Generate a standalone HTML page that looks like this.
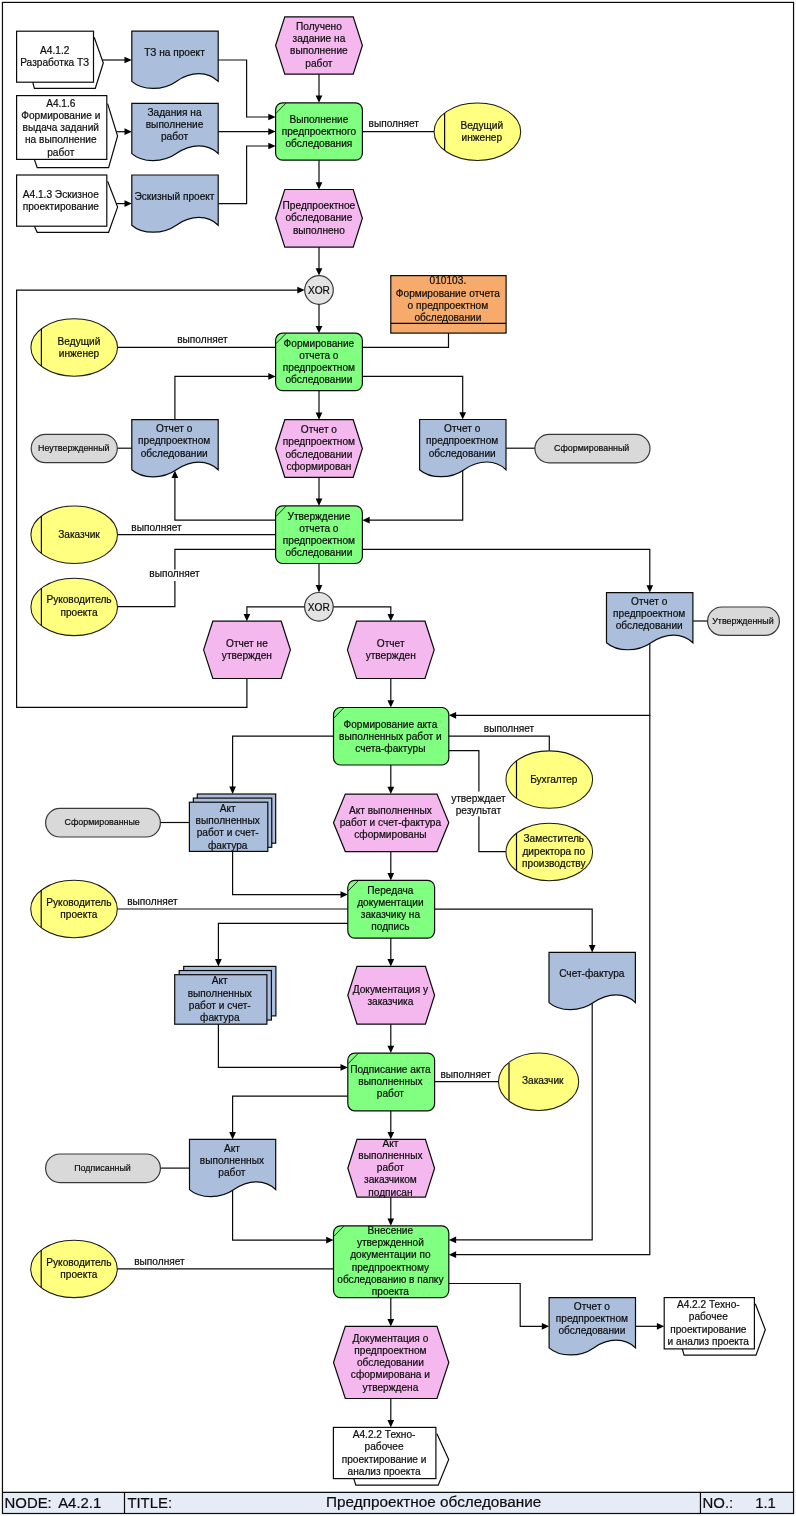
<!DOCTYPE html>
<html lang="ru">
<head>
<meta charset="utf-8">
<title>Предпроектное обследование</title>
<style>
html,body{margin:0;padding:0;background:#fff;}
body{width:796px;height:1516px;overflow:hidden;}
svg{display:block;will-change:transform;}
text{font-family:"Liberation Sans",sans-serif;fill:#0c0c0c;stroke:#0c0c0c;stroke-width:0.2;}
.s{stroke:#0a0a0a;stroke-width:1.2;stroke-linejoin:miter;}
.sp{stroke:#3a3a3a;stroke-width:1.2;}
.se{stroke:#1c1c10;stroke-width:1.05;}
.l{stroke:#0a0a0a;stroke-width:1.2;fill:none;stroke-linejoin:miter;}
.a{fill:#000;stroke:none;}
</style>
</head>
<body>
<svg width="796" height="1516" viewBox="0 0 796 1516">
<polyline class="l" fill="#fff" points="94.2,37.2 103.3,63 95.3,88.3 34.4,88.3 32.7,82.2"/>
<rect class="s" fill="#fff" x="16.6" y="31.2" width="76.9" height="51"/>
<text class="t" x="54.7" y="53.7" font-size="10.15" text-anchor="middle">A4.1.2</text>
<text class="t" x="54.7" y="65.93" font-size="10.15" text-anchor="middle">Разработка ТЗ</text>
<polyline class="l" fill="#fff" points="107.6,103.6 117.6,136 108.6,167.6 37.2,167.6 34.4,159.4"/>
<rect class="s" fill="#fff" x="16.6" y="95.6" width="90.2" height="63.8"/>
<text class="t" x="60.8" y="106.6" font-size="10.15" text-anchor="middle">A4.1.6</text>
<text class="t" x="60.8" y="118.83" font-size="10.15" text-anchor="middle">Формирование и</text>
<text class="t" x="60.8" y="131.06" font-size="10.15" text-anchor="middle">выдача заданий</text>
<text class="t" x="60.8" y="143.29" font-size="10.15" text-anchor="middle">на выполнение</text>
<text class="t" x="60.8" y="155.52" font-size="10.15" text-anchor="middle">работ</text>
<polyline class="l" fill="#fff" points="107.6,181.3 117.6,207.1 108.6,232.3 37.2,232.3 34.4,226.2"/>
<rect class="s" fill="#fff" x="16.6" y="175" width="90.2" height="51.2"/>
<text class="t" x="60.8" y="197.5" font-size="10.15" text-anchor="middle">A4.1.3 Эскизное</text>
<text class="t" x="60.8" y="209.73" font-size="10.15" text-anchor="middle">проектирование</text>
<path class="s" fill="#ABBFDC" d="M131.8 31.2 H218.2 V81.4 C207.83 71.1 190.98 71.1 176.3 81.4 C163.34 90.7 142.17 90.7 131.8 81.4 Z"/>
<text class="t" x="174.5" y="56" font-size="10.15" text-anchor="middle">ТЗ на проект</text>
<path class="s" fill="#ABBFDC" d="M131.8 103.4 H218.2 V153.6 C207.83 143.3 190.98 143.3 176.3 153.6 C163.34 162.9 142.17 162.9 131.8 153.6 Z"/>
<text class="t" x="174.5" y="115.7" font-size="10.15" text-anchor="middle">Задания на</text>
<text class="t" x="174.5" y="127.93" font-size="10.15" text-anchor="middle">выполнение</text>
<text class="t" x="174.5" y="140.16" font-size="10.15" text-anchor="middle">работ</text>
<path class="s" fill="#ABBFDC" d="M131.8 175 H218.2 V225.2 C207.83 214.9 190.98 214.9 176.3 225.2 C163.34 234.5 142.17 234.5 131.8 225.2 Z"/>
<text class="t" x="174.5" y="199.7" font-size="10.15" text-anchor="middle">Эскизный проект</text>
<polygon class="s" fill="#F4B8EE" points="275.6,45.5 284.8,16.8 353.2,16.8 362.4,45.5 353.2,74.2 284.8,74.2"/>
<text class="t" x="318.9" y="29.9" font-size="10.15" text-anchor="middle">Получено</text>
<text class="t" x="318.9" y="42.13" font-size="10.15" text-anchor="middle">задание на</text>
<text class="t" x="318.9" y="54.36" font-size="10.15" text-anchor="middle">выполнение</text>
<text class="t" x="318.9" y="66.59" font-size="10.15" text-anchor="middle">работ</text>
<rect class="s" fill="#80FF80" x="275.6" y="102.8" width="86.8" height="57.4" rx="7.0" ry="7.0"/>
<path class="l" style="stroke-width:0.85" d="M275.9 113.4 L286 103.1"/>
<text class="t" x="318.9" y="122.9" font-size="10.15" text-anchor="middle">Выполнение</text>
<text class="t" x="318.9" y="135.13" font-size="10.15" text-anchor="middle">предпроектного</text>
<text class="t" x="318.9" y="147.36" font-size="10.15" text-anchor="middle">обследования</text>
<ellipse class="se" fill="#FFFF80" cx="477.4" cy="131.7" rx="43.3" ry="28.7"/>
<path class="l" d="M444.6 113 V150.2"/>
<text class="t" x="481.8" y="128.7" font-size="10.15" text-anchor="middle">Ведущий</text>
<text class="t" x="481.8" y="140.93" font-size="10.15" text-anchor="middle">инженер</text>
<polygon class="s" fill="#F4B8EE" points="275.6,218.3 284.8,189.5 353.2,189.5 362.4,218.3 353.2,247.1 284.8,247.1"/>
<text class="t" x="318.9" y="209.1" font-size="10.15" text-anchor="middle">Предпроектное</text>
<text class="t" x="318.9" y="221.33" font-size="10.15" text-anchor="middle">обследование</text>
<text class="t" x="318.9" y="233.56" font-size="10.15" text-anchor="middle">выполнено</text>
<circle class="sp" fill="#E3E3E3" cx="319" cy="290" r="14.3"/>
<text class="t" x="318.9" y="293.8" font-size="10.15" text-anchor="middle">XOR</text>
<rect class="s" fill="#F6AB6C" x="390.8" y="275.6" width="115.3" height="57.5"/>
<path class="l" d="M390.8 323.3 H506.1"/>
<text class="t" x="447.9" y="284.3" font-size="10.15" text-anchor="middle">010103.</text>
<text class="t" x="447.9" y="296.53" font-size="10.15" text-anchor="middle">Формирование отчета</text>
<text class="t" x="447.9" y="308.76" font-size="10.15" text-anchor="middle">о предпроектном</text>
<text class="t" x="447.9" y="320.99" font-size="10.15" text-anchor="middle">обследовании</text>
<ellipse class="se" fill="#FFFF80" cx="74.2" cy="347.5" rx="43.3" ry="28.7"/>
<path class="l" d="M41.4 328.8 V366"/>
<text class="t" x="79" y="344.6" font-size="10.15" text-anchor="middle">Ведущий</text>
<text class="t" x="79" y="356.83" font-size="10.15" text-anchor="middle">инженер</text>
<rect class="s" fill="#80FF80" x="275.6" y="333.2" width="86.8" height="57.4" rx="7.0" ry="7.0"/>
<path class="l" style="stroke-width:0.85" d="M275.9 343.8 L286 333.5"/>
<text class="t" x="318.9" y="346.8" font-size="10.15" text-anchor="middle">Формирование</text>
<text class="t" x="318.9" y="359.03" font-size="10.15" text-anchor="middle">отчета о</text>
<text class="t" x="318.9" y="371.26" font-size="10.15" text-anchor="middle">предпроектном</text>
<text class="t" x="318.9" y="383.49" font-size="10.15" text-anchor="middle">обследовании</text>
<path class="s" fill="#ABBFDC" d="M131.8 419.6 H218.2 V469.8 C207.83 459.5 190.98 459.5 176.3 469.8 C163.34 479.1 142.17 479.1 131.8 469.8 Z"/>
<text class="t" x="174.2" y="432.2" font-size="10.15" text-anchor="middle">Отчет о</text>
<text class="t" x="174.2" y="444.43" font-size="10.15" text-anchor="middle">предпроектном</text>
<text class="t" x="174.2" y="456.66" font-size="10.15" text-anchor="middle">обследовании</text>
<polygon class="s" fill="#F4B8EE" points="275.6,448.5 284.8,419.7 353.2,419.7 362.4,448.5 353.2,477.3 284.8,477.3"/>
<text class="t" x="318.9" y="433.2" font-size="10.15" text-anchor="middle">Отчет о</text>
<text class="t" x="318.9" y="445.43" font-size="10.15" text-anchor="middle">предпроектном</text>
<text class="t" x="318.9" y="457.66" font-size="10.15" text-anchor="middle">обследовании</text>
<text class="t" x="318.9" y="469.89" font-size="10.15" text-anchor="middle">сформирован</text>
<path class="s" fill="#ABBFDC" d="M419.6 419.5 H506 V469.7 C495.63 459.4 478.78 459.4 464.1 469.7 C451.14 479 429.97 479 419.6 469.7 Z"/>
<text class="t" x="462.2" y="432.2" font-size="10.15" text-anchor="middle">Отчет о</text>
<text class="t" x="462.2" y="444.43" font-size="10.15" text-anchor="middle">предпроектном</text>
<text class="t" x="462.2" y="456.66" font-size="10.15" text-anchor="middle">обследовании</text>
<rect class="sp" fill="#D9D9D9" x="31.2" y="434.3" width="86.1" height="28.3" rx="14.15" ry="14.15"/>
<text class="t" x="73.8" y="451.3" font-size="8.9" text-anchor="middle">Неутвержденный</text>
<rect class="sp" fill="#D9D9D9" x="534.9" y="434.4" width="115.1" height="28.4" rx="14.2" ry="14.2"/>
<text class="t" x="591.7" y="451.1" font-size="8.9" text-anchor="middle">Сформированный</text>
<ellipse class="se" fill="#FFFF80" cx="74.2" cy="534.8" rx="43.3" ry="28.7"/>
<path class="l" d="M41.4 516.1 V553.3"/>
<text class="t" x="79" y="537.9" font-size="10.15" text-anchor="middle">Заказчик</text>
<ellipse class="se" fill="#FFFF80" cx="74.2" cy="606.9" rx="43.3" ry="28.7"/>
<path class="l" d="M41.4 588.2 V625.4"/>
<text class="t" x="79" y="603.3" font-size="10.15" text-anchor="middle">Руководитель</text>
<text class="t" x="79" y="615.53" font-size="10.15" text-anchor="middle">проекта</text>
<rect class="s" fill="#80FF80" x="275.6" y="505.9" width="86.8" height="57.6" rx="7.0" ry="7.0"/>
<path class="l" style="stroke-width:0.85" d="M275.9 516.5 L286 506.2"/>
<text class="t" x="318.9" y="519.6" font-size="10.15" text-anchor="middle">Утверждение</text>
<text class="t" x="318.9" y="531.83" font-size="10.15" text-anchor="middle">отчета о</text>
<text class="t" x="318.9" y="544.06" font-size="10.15" text-anchor="middle">предпроектном</text>
<text class="t" x="318.9" y="556.29" font-size="10.15" text-anchor="middle">обследовании</text>
<circle class="sp" fill="#E3E3E3" cx="318.9" cy="606.8" r="14.3"/>
<text class="t" x="318.8" y="610.6" font-size="10.15" text-anchor="middle">XOR</text>
<polygon class="s" fill="#F4B8EE" points="203.6,649.85 212.8,621.2 281.2,621.2 290.4,649.85 281.2,678.5 212.8,678.5"/>
<text class="t" x="246.9" y="647" font-size="10.15" text-anchor="middle">Отчет не</text>
<text class="t" x="246.9" y="659.23" font-size="10.15" text-anchor="middle">утвержден</text>
<polygon class="s" fill="#F4B8EE" points="347.4,649.85 356.6,621.2 425,621.2 434.2,649.85 425,678.5 356.6,678.5"/>
<text class="t" x="390.7" y="647" font-size="10.15" text-anchor="middle">Отчет</text>
<text class="t" x="390.7" y="659.23" font-size="10.15" text-anchor="middle">утвержден</text>
<path class="s" fill="#ABBFDC" d="M606.5 592.6 H692.9 V642.8 C682.53 632.5 665.68 632.5 651 642.8 C638.04 652.1 616.87 652.1 606.5 642.8 Z"/>
<text class="t" x="649.2" y="604.9" font-size="10.15" text-anchor="middle">Отчет о</text>
<text class="t" x="649.2" y="617.13" font-size="10.15" text-anchor="middle">предпроектном</text>
<text class="t" x="649.2" y="629.36" font-size="10.15" text-anchor="middle">обследовании</text>
<rect class="sp" fill="#D9D9D9" x="707.6" y="607" width="71.8" height="28.4" rx="14.2" ry="14.2"/>
<text class="t" x="742.9" y="623.9" font-size="8.9" text-anchor="middle">Утвержденный</text>
<rect class="s" fill="#80FF80" x="333.5" y="707.5" width="115.3" height="57.5" rx="7.0" ry="7.0"/>
<path class="l" style="stroke-width:0.85" d="M333.8 718.1 L343.9 707.8"/>
<text class="t" x="390.4" y="727.5" font-size="10.15" text-anchor="middle">Формирование акта</text>
<text class="t" x="390.4" y="739.73" font-size="10.15" text-anchor="middle">выполненных работ и</text>
<text class="t" x="390.4" y="751.96" font-size="10.15" text-anchor="middle">счета-фактуры</text>
<ellipse class="se" fill="#FFFF80" cx="549.3" cy="779.6" rx="43.3" ry="28.7"/>
<path class="l" d="M516.5 760.9 V798.1"/>
<text class="t" x="553.8" y="782.7" font-size="10.15" text-anchor="middle">Бухгалтер</text>
<ellipse class="se" fill="#FFFF80" cx="549.3" cy="852" rx="43.3" ry="28.7"/>
<path class="l" d="M516.5 833.3 V870.5"/>
<text class="t" x="553.8" y="842.3" font-size="10.15" text-anchor="middle">Заместитель</text>
<text class="t" x="553.8" y="854.53" font-size="10.15" text-anchor="middle">директора по</text>
<text class="t" x="553.8" y="866.76" font-size="10.15" text-anchor="middle">производству</text>
<rect class="s" fill="#ABBFDC" x="197.3" y="794" width="78.4" height="49.2"/>
<rect class="s" fill="#ABBFDC" x="193.35" y="798.1" width="78.4" height="49.2"/>
<rect class="s" fill="#ABBFDC" x="189.4" y="802.2" width="78.4" height="49.2"/>
<text class="t" x="227.7" y="811.9" font-size="10.15" text-anchor="middle">Акт</text>
<text class="t" x="227.7" y="824.13" font-size="10.15" text-anchor="middle">выполненных</text>
<text class="t" x="227.7" y="836.36" font-size="10.15" text-anchor="middle">работ и счет-</text>
<text class="t" x="227.7" y="848.59" font-size="10.15" text-anchor="middle">фактура</text>
<rect class="sp" fill="#D9D9D9" x="45.6" y="808.4" width="114.8" height="28.6" rx="14.3" ry="14.3"/>
<text class="t" x="102.2" y="825.4" font-size="8.9" text-anchor="middle">Сформированные</text>
<polygon class="s" fill="#F4B8EE" points="333.5,822.85 345.3,794.1 437,794.1 448.8,822.85 437,851.6 345.3,851.6"/>
<text class="t" x="390.4" y="813.6" font-size="10.15" text-anchor="middle">Акт выполненных</text>
<text class="t" x="390.4" y="825.83" font-size="10.15" text-anchor="middle">работ и счет-фактура</text>
<text class="t" x="390.4" y="838.06" font-size="10.15" text-anchor="middle">сформированы</text>
<rect class="s" fill="#80FF80" x="347.8" y="880.4" width="86.8" height="57.7" rx="7.0" ry="7.0"/>
<path class="l" style="stroke-width:0.85" d="M348.1 891 L358.2 880.7"/>
<text class="t" x="390.4" y="893.8" font-size="10.15" text-anchor="middle">Передача</text>
<text class="t" x="390.4" y="906.03" font-size="10.15" text-anchor="middle">документации</text>
<text class="t" x="390.4" y="918.26" font-size="10.15" text-anchor="middle">заказчику на</text>
<text class="t" x="390.4" y="930.49" font-size="10.15" text-anchor="middle">подпись</text>
<ellipse class="se" fill="#FFFF80" cx="74" cy="909" rx="43.3" ry="28.7"/>
<path class="l" d="M41.2 890.3 V927.5"/>
<text class="t" x="78.9" y="905.9" font-size="10.15" text-anchor="middle">Руководитель</text>
<text class="t" x="78.9" y="918.13" font-size="10.15" text-anchor="middle">проекта</text>
<rect class="s" fill="#ABBFDC" x="183.7" y="966.4" width="92.2" height="49.5"/>
<rect class="s" fill="#ABBFDC" x="179.2" y="970.55" width="92.2" height="49.5"/>
<rect class="s" fill="#ABBFDC" x="174.7" y="974.7" width="92.2" height="49.5"/>
<text class="t" x="219.8" y="984.4" font-size="10.15" text-anchor="middle">Акт</text>
<text class="t" x="219.8" y="996.63" font-size="10.15" text-anchor="middle">выполненных</text>
<text class="t" x="219.8" y="1008.86" font-size="10.15" text-anchor="middle">работ и счет-</text>
<text class="t" x="219.8" y="1021.09" font-size="10.15" text-anchor="middle">фактура</text>
<path class="s" fill="#ABBFDC" d="M549 952.4 H635.4 V1002.6 C625.03 992.3 608.18 992.3 593.5 1002.6 C580.54 1011.9 559.37 1011.9 549 1002.6 Z"/>
<text class="t" x="591.8" y="976.7" font-size="10.15" text-anchor="middle">Счет-фактура</text>
<polygon class="s" fill="#F4B8EE" points="347.8,995.3 357,966.4 425.4,966.4 434.6,995.3 425.4,1024.2 357,1024.2"/>
<text class="t" x="390.4" y="992.5" font-size="10.15" text-anchor="middle">Документация у</text>
<text class="t" x="390.4" y="1004.73" font-size="10.15" text-anchor="middle">заказчика</text>
<rect class="s" fill="#80FF80" x="347.8" y="1053.1" width="86.8" height="57.7" rx="7.0" ry="7.0"/>
<path class="l" style="stroke-width:0.85" d="M348.1 1063.7 L358.2 1053.4"/>
<text class="t" x="390.4" y="1072.6" font-size="10.15" text-anchor="middle">Подписание акта</text>
<text class="t" x="390.4" y="1084.83" font-size="10.15" text-anchor="middle">выполненных</text>
<text class="t" x="390.4" y="1097.06" font-size="10.15" text-anchor="middle">работ</text>
<ellipse class="se" fill="#FFFF80" cx="538.6" cy="1081.7" rx="40.1" ry="28.7"/>
<path class="l" d="M509 1063 V1100.2"/>
<text class="t" x="542.7" y="1084.4" font-size="10.15" text-anchor="middle">Заказчик</text>
<path class="s" fill="#ABBFDC" d="M189.5 1139.4 H275.7 V1189.6 C265.36 1179.3 248.55 1179.3 233.89 1189.6 C220.96 1198.9 199.84 1198.9 189.5 1189.6 Z"/>
<text class="t" x="231.9" y="1151.8" font-size="10.15" text-anchor="middle">Акт</text>
<text class="t" x="231.9" y="1164.03" font-size="10.15" text-anchor="middle">выполненных</text>
<text class="t" x="231.9" y="1176.26" font-size="10.15" text-anchor="middle">работ</text>
<rect class="sp" fill="#D9D9D9" x="45.6" y="1154" width="114.8" height="28.6" rx="14.3" ry="14.3"/>
<text class="t" x="102.5" y="1170.7" font-size="8.9" text-anchor="middle">Подписанный</text>
<polygon class="s" fill="#F4B8EE" points="347.8,1168.2 357,1139.3 425.4,1139.3 434.6,1168.2 425.4,1197.1 357,1197.1"/>
<text class="t" x="390.4" y="1146.8" font-size="10.15" text-anchor="middle">Акт</text>
<text class="t" x="390.4" y="1159.03" font-size="10.15" text-anchor="middle">выполненных</text>
<text class="t" x="390.4" y="1171.26" font-size="10.15" text-anchor="middle">работ</text>
<text class="t" x="390.4" y="1183.49" font-size="10.15" text-anchor="middle">заказчиком</text>
<text class="t" x="390.4" y="1195.72" font-size="10.15" text-anchor="middle">подписан</text>
<rect class="s" fill="#80FF80" x="333.5" y="1225.8" width="115.3" height="71.8" rx="7.0" ry="7.0"/>
<path class="l" style="stroke-width:0.85" d="M333.8 1236.4 L343.9 1226.1"/>
<text class="t" x="390.4" y="1234" font-size="10.15" text-anchor="middle">Внесение</text>
<text class="t" x="390.4" y="1246.23" font-size="10.15" text-anchor="middle">утвержденной</text>
<text class="t" x="390.4" y="1258.46" font-size="10.15" text-anchor="middle">документации по</text>
<text class="t" x="390.4" y="1270.69" font-size="10.15" text-anchor="middle">предпроектному</text>
<text class="t" x="390.4" y="1282.92" font-size="10.15" text-anchor="middle">обследованию в папку</text>
<text class="t" x="390.4" y="1295.15" font-size="10.15" text-anchor="middle">проекта</text>
<ellipse class="se" fill="#FFFF80" cx="74" cy="1268.9" rx="43.3" ry="28.7"/>
<path class="l" d="M41.2 1250.2 V1287.4"/>
<text class="t" x="78.9" y="1266" font-size="10.15" text-anchor="middle">Руководитель</text>
<text class="t" x="78.9" y="1278.23" font-size="10.15" text-anchor="middle">проекта</text>
<path class="s" fill="#ABBFDC" d="M549.1 1297.7 H635.5 V1347.9 C625.13 1337.6 608.28 1337.6 593.6 1347.9 C580.64 1357.2 559.47 1357.2 549.1 1347.9 Z"/>
<text class="t" x="591.9" y="1310" font-size="10.15" text-anchor="middle">Отчет о</text>
<text class="t" x="591.9" y="1322.23" font-size="10.15" text-anchor="middle">предпроектном</text>
<text class="t" x="591.9" y="1334.46" font-size="10.15" text-anchor="middle">обследовании</text>
<polyline class="l" fill="#fff" points="755.3,1303.8 765.3,1329.7 756,1355.1 684.1,1355.1 682.3,1348.9"/>
<rect class="s" fill="#fff" x="664.2" y="1297.6" width="90.2" height="51.3"/>
<text class="t" x="708.3" y="1308.2" font-size="10.15" text-anchor="middle">A4.2.2 Техно-</text>
<text class="t" x="708.3" y="1320.43" font-size="10.15" text-anchor="middle">рабочее</text>
<text class="t" x="708.3" y="1332.66" font-size="10.15" text-anchor="middle">проектирование</text>
<text class="t" x="708.3" y="1344.89" font-size="10.15" text-anchor="middle">и анализ проекта</text>
<polygon class="s" fill="#F4B8EE" points="333.5,1362.45 345.3,1326.4 437,1326.4 448.8,1362.45 437,1398.5 345.3,1398.5"/>
<text class="t" x="390.4" y="1341.7" font-size="10.15" text-anchor="middle">Документация о</text>
<text class="t" x="390.4" y="1353.93" font-size="10.15" text-anchor="middle">предпроектном</text>
<text class="t" x="390.4" y="1366.16" font-size="10.15" text-anchor="middle">обследовании</text>
<text class="t" x="390.4" y="1378.39" font-size="10.15" text-anchor="middle">сформирована и</text>
<text class="t" x="390.4" y="1390.62" font-size="10.15" text-anchor="middle">утверждена</text>
<polyline class="l" fill="#fff" points="436.9,1433.7 448.7,1459.5 438.2,1485.2 355.8,1485.2 353.8,1478.6"/>
<rect class="s" fill="#fff" x="333.4" y="1427.4" width="102.5" height="51.2"/>
<text class="t" x="384.1" y="1438.1" font-size="10.15" text-anchor="middle">A4.2.2 Техно-</text>
<text class="t" x="384.1" y="1450.33" font-size="10.15" text-anchor="middle">рабочее</text>
<text class="t" x="384.1" y="1462.56" font-size="10.15" text-anchor="middle">проектирование и</text>
<text class="t" x="384.1" y="1474.79" font-size="10.15" text-anchor="middle">анализ проекта</text>
<path class="l" d="M102.3 60 L128.8 60"/>
<polygon class="a" points="131.8,60 124.5,63.35 124.5,56.65"/>
<path class="l" d="M116.3 131.7 L128.8 131.7"/>
<polygon class="a" points="131.8,131.7 124.5,135.05 124.5,128.35"/>
<path class="l" d="M116.3 203.6 L128.8 203.6"/>
<polygon class="a" points="131.8,203.6 124.5,206.95 124.5,200.25"/>
<path class="l" d="M218.2 60 L246.6 60 L246.6 117 L272.6 117"/>
<polygon class="a" points="275.6,117 268.3,120.35 268.3,113.65"/>
<path class="l" d="M218.2 131.6 L272.6 131.6"/>
<polygon class="a" points="275.6,131.6 268.3,134.95 268.3,128.25"/>
<path class="l" d="M218.2 203.6 L246.6 203.6 L246.6 146 L272.6 146"/>
<polygon class="a" points="275.6,146 268.3,149.35 268.3,142.65"/>
<path class="l" d="M319 74.2 L319 99.8"/>
<polygon class="a" points="319,102.8 315.65,95.5 322.35,95.5"/>
<path class="l" d="M362.4 131.6 L434 131.6"/>
<path class="l" d="M319 160.2 L319 186.5"/>
<polygon class="a" points="319,189.5 315.65,182.2 322.35,182.2"/>
<path class="l" d="M319 247.1 L319 272.6"/>
<polygon class="a" points="319,275.6 315.65,268.3 322.35,268.3"/>
<path class="l" d="M319 304.4 L319 330.2"/>
<polygon class="a" points="319,333.2 315.65,325.9 322.35,325.9"/>
<path class="l" d="M448.5 333.1 L448.5 347.4 L362.4 347.4"/>
<path class="l" d="M117.6 347.4 L275.6 347.4"/>
<path class="l" d="M174.9 419.6 L174.9 376.4 L272.6 376.4"/>
<polygon class="a" points="275.6,376.4 268.3,379.75 268.3,373.05"/>
<path class="l" d="M362.4 376.3 L462.7 376.3 L462.7 416.5"/>
<polygon class="a" points="462.7,419.5 459.35,412.2 466.05,412.2"/>
<path class="l" d="M319 390.6 L319 416.7"/>
<polygon class="a" points="319,419.7 315.65,412.4 322.35,412.4"/>
<path class="l" d="M319 477.3 L319 502.9"/>
<polygon class="a" points="319,505.9 315.65,498.6 322.35,498.6"/>
<path class="l" d="M462.7 470.2 L462.7 520.2 L365.4 520.2"/>
<polygon class="a" points="362.4,520.2 369.7,516.85 369.7,523.55"/>
<path class="l" d="M275.6 520.2 L174.9 520.2 L174.9 473.6"/>
<polygon class="a" points="174.9,470.6 178.25,477.9 171.55,477.9"/>
<path class="l" d="M117.6 448.2 L131.8 448.2"/>
<path class="l" d="M506.2 448.2 L534.6 448.2"/>
<path class="l" d="M117.6 534.7 L275.6 534.7"/>
<path class="l" d="M117.6 606.7 L174.9 606.7 L174.9 549.3 L275.6 549.3"/>
<path class="l" d="M362.4 549.3 L649.8 549.3 L649.8 589.6"/>
<polygon class="a" points="649.8,592.6 646.45,585.3 653.15,585.3"/>
<path class="l" d="M319 563.5 L319 589.4"/>
<polygon class="a" points="319,592.4 315.65,585.1 322.35,585.1"/>
<path class="l" d="M304.5 606.8 L246.9 606.8 L246.9 618.2"/>
<polygon class="a" points="246.9,621.2 243.55,613.9 250.25,613.9"/>
<path class="l" d="M333.4 606.8 L390.8 606.8 L390.8 618.2"/>
<polygon class="a" points="390.8,621.2 387.45,613.9 394.15,613.9"/>
<path class="l" d="M246.9 678.5 L246.9 707.3 L16.6 707.3 L16.6 290.1 L301.6 290.1"/>
<polygon class="a" points="304.6,290.1 297.3,293.45 297.3,286.75"/>
<path class="l" d="M390.8 678.5 L390.8 704.5"/>
<polygon class="a" points="390.8,707.5 387.45,700.2 394.15,700.2"/>
<path class="l" d="M649.8 643.3 L649.8 715.3 L451.8 715.3"/>
<polygon class="a" points="448.8,715.3 456.1,711.95 456.1,718.65"/>
<path class="l" d="M649.8 715.3 L649.8 1254.7 L451.8 1254.7"/>
<polygon class="a" points="448.8,1254.7 456.1,1251.35 456.1,1258.05"/>
<path class="l" d="M693.1 621 L707.3 621"/>
<path class="l" d="M333.5 736.2 L232.6 736.2 L232.6 790.9"/>
<polygon class="a" points="232.6,793.9 229.25,786.6 235.95,786.6"/>
<path class="l" d="M448.8 736.2 L549.3 736.2 L549.3 750.6"/>
<path class="l" d="M448.8 750.6 L478.9 750.6 L478.9 851.6 L505.8 851.6"/>
<path class="l" d="M390.8 765 L390.8 791.1"/>
<polygon class="a" points="390.8,794.1 387.45,786.8 394.15,786.8"/>
<path class="l" d="M160.7 822.5 L189.4 822.5"/>
<path class="l" d="M232.6 851.4 L232.6 894.6 L344.8 894.6"/>
<polygon class="a" points="347.8,894.6 340.5,897.95 340.5,891.25"/>
<path class="l" d="M390.8 851.6 L390.8 877.4"/>
<polygon class="a" points="390.8,880.4 387.45,873.1 394.15,873.1"/>
<path class="l" d="M117.4 909 L347.8 909"/>
<path class="l" d="M347.8 923.3 L218.4 923.3 L218.4 963.4"/>
<polygon class="a" points="218.4,966.4 215.05,959.1 221.75,959.1"/>
<path class="l" d="M434.6 909.2 L592.2 909.2 L592.2 949.4"/>
<polygon class="a" points="592.2,952.4 588.85,945.1 595.55,945.1"/>
<path class="l" d="M390.8 938.1 L390.8 963.4"/>
<polygon class="a" points="390.8,966.4 387.45,959.1 394.15,959.1"/>
<path class="l" d="M218.4 1024.2 L218.4 1067.4 L344.8 1067.4"/>
<polygon class="a" points="347.8,1067.4 340.5,1070.75 340.5,1064.05"/>
<path class="l" d="M390.8 1024.2 L390.8 1050.1"/>
<polygon class="a" points="390.8,1053.1 387.45,1045.8 394.15,1045.8"/>
<path class="l" d="M434.6 1081.7 L498.4 1081.7"/>
<path class="l" d="M347.8 1096.2 L232.6 1096.2 L232.6 1136.4"/>
<polygon class="a" points="232.6,1139.4 229.25,1132.1 235.95,1132.1"/>
<path class="l" d="M390.8 1110.8 L390.8 1136.3"/>
<polygon class="a" points="390.8,1139.3 387.45,1132 394.15,1132"/>
<path class="l" d="M160.7 1168.1 L189.5 1168.1"/>
<path class="l" d="M232.6 1190.1 L232.6 1240.1 L330.5 1240.1"/>
<polygon class="a" points="333.5,1240.1 326.2,1243.45 326.2,1236.75"/>
<path class="l" d="M592.2 1003.1 L592.2 1239.9 L451.8 1239.9"/>
<polygon class="a" points="448.8,1239.9 456.1,1236.55 456.1,1243.25"/>
<path class="l" d="M390.8 1197.1 L390.8 1222.8"/>
<polygon class="a" points="390.8,1225.8 387.45,1218.5 394.15,1218.5"/>
<path class="l" d="M117.4 1268.9 L333.5 1268.9"/>
<path class="l" d="M448.8 1283.5 L520.2 1283.5 L520.2 1326.3 L546.1 1326.3"/>
<polygon class="a" points="549.1,1326.3 541.8,1329.65 541.8,1322.95"/>
<path class="l" d="M635.7 1326.3 L661.2 1326.3"/>
<polygon class="a" points="664.2,1326.3 656.9,1329.65 656.9,1322.95"/>
<path class="l" d="M390.8 1297.6 L390.8 1323.4"/>
<polygon class="a" points="390.8,1326.4 387.45,1319.1 394.15,1319.1"/>
<path class="l" d="M390.8 1398.5 L390.8 1424.4"/>
<polygon class="a" points="390.8,1427.4 387.45,1420.1 394.15,1420.1"/>
<text class="t" x="368.5" y="127.2" font-size="10.15" text-anchor="start">выполняет</text>
<text class="t" x="177.2" y="343.4" font-size="10.15" text-anchor="start">выполняет</text>
<text class="t" x="131.3" y="530.5" font-size="10.15" text-anchor="start">выполняет</text>
<rect fill="#fff" x="148" y="569.5" width="53" height="11.5"/>
<text class="t" x="174.5" y="577.4" font-size="10.15" text-anchor="middle">выполняет</text>
<text class="t" x="483.8" y="732.1" font-size="10.15" text-anchor="start">выполняет</text>
<rect fill="#fff" x="450" y="791.6" width="57" height="24.8"/>
<text class="t" x="478.4" y="801.9" font-size="10.15" text-anchor="middle">утверждает</text>
<text class="t" x="478.4" y="814.13" font-size="10.15" text-anchor="middle">результат</text>
<text class="t" x="127.2" y="904.7" font-size="10.15" text-anchor="start">выполняет</text>
<text class="t" x="440.4" y="1077.6" font-size="10.15" text-anchor="start">выполняет</text>
<text class="t" x="134.2" y="1264.9" font-size="10.15" text-anchor="start">выполняет</text>
<rect fill="#E6ECF7" x="2.5" y="1492.5" width="791" height="21"/>
<rect class="l" x="2.45" y="2.4" width="791.1" height="1511.1"/>
<path class="l" d="M2.5 1492.45 H793.5 M124.5 1492.5 V1513.5 M700.45 1492.5 V1513.5"/>
<text class="tb" x="4.6" y="1507.5" font-size="14.9" text-anchor="start">NODE:</text>
<text class="tb" x="58.2" y="1507.5" font-size="14.9" text-anchor="start">A4.2.1</text>
<text class="tb" x="127.4" y="1507.5" font-size="14.9" text-anchor="start">TITLE:</text>
<text class="tb" x="433.7" y="1507.1" font-size="15.3" text-anchor="middle">Предпроектное обследование</text>
<text class="tb" x="702.6" y="1507.5" font-size="14.9" text-anchor="start">NO.:</text>
<text class="tb" x="755.2" y="1507.5" font-size="14.9" text-anchor="start">1.1</text>
</svg>
</body>
</html>
